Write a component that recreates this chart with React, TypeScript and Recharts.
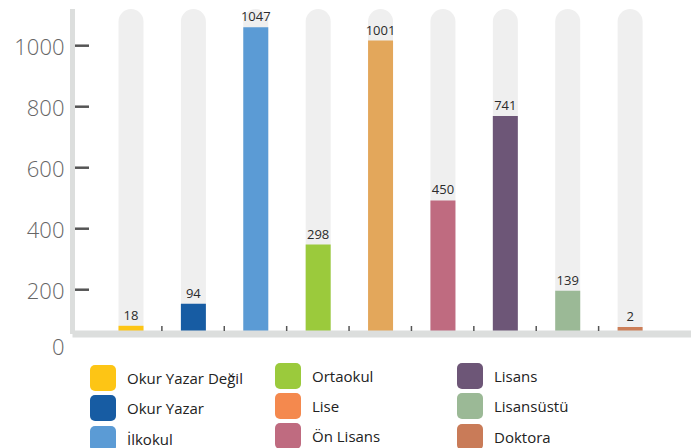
import * as React from "react";
import { BarChart, Bar, XAxis, YAxis, Cell, LabelList, Legend } from "recharts";

const categories = ["Okur Yazar Değil", "Okur Yazar", "İlkokul", "Ortaokul", "Lise", "Ön Lisans", "Lisans", "Lisansüstü", "Doktora"];
const counts = [18, 94, 1047, 298, 1001, 450, 741, 139, 2];
const barColors = ["#fdc515", "#175ca3", "#5b9bd5", "#9bca3c", "#e3a75b", "#bf6b80", "#6d5677", "#9bb996", "#cc7e57"];
const legendColors = ["#fdc515", "#175ca3", "#5b9bd5", "#9bca3c", "#f4894e", "#bf6b80", "#6d5677", "#9bb996", "#c97b58"];
const yTicks = [0, 200, 400, 600, 800, 1000];

const FONT = "'Open Sans', sans-serif";

const chartData = categories.map((name, i) => ({ name, value: counts[i] }));

const YTick = (props: any) => {
    const { x, y, payload } = props;
    const isZero = payload.value === 0;
    return (
        <g>
            <text x={x} y={isZero ? y - 5 : y} textAnchor="end" dominantBaseline="central"
                  fill="#666" fontSize={22} fontWeight={300} fontFamily={FONT}>
                {payload.value}
            </text>
            {!isZero && <line x1={x + 10.5} x2={x + 24.5} y1={y} y2={y} stroke="#555" strokeWidth={2.5} />}
        </g>
    );
};

const XTick = (props: any) => {
    const { x, y, payload, index } = props;
    if (index >= categories.length - 1) return null;
    const bx = x + (payload.offset || 31.2);
    return <line x1={bx} x2={bx} y1={y - 8} y2={y - 3} stroke="#555" strokeWidth={1.5} />;
};

// legend grid: first column sits a touch lower than the other two
const colLeft = [90, 275, 457];
const colShift = [1.5, -1, -0.5];
const rowTop = [363.5, 393.5, 424];

const LegendContent = () => (
    <div style={{ position: "relative", width: 691, height: 448, fontFamily: FONT }}>
        {categories.map((name, i) => {
            const col = Math.floor(i / 3);
            return (
                <div key={name} style={{
                    position: "absolute", left: colLeft[col], top: rowTop[i % 3] + colShift[col],
                    display: "flex", alignItems: "center", height: 26
                }}>
                    <span style={{ width: 26, height: 26, borderRadius: 5, background: legendColors[i], display: "inline-block" }} />
                    <span style={{ marginLeft: 11, fontSize: 15, color: "#222", whiteSpace: "nowrap" }}>{name}</span>
                </div>
            );
        })}
    </div>
);

export default function App() {
    return (
        <div style={{ position: "absolute", left: 0, top: 0, width: 691, height: 448, background: "#fff" }}>
            <BarChart width={691} height={448} data={chartData}
                      margin={{ top: 9, right: 0, left: 0, bottom: 94 }}>
                <YAxis yAxisId="scale" width={72.5} domain={[54.8, 1120.3]} allowDataOverflow
                       ticks={yTicks} interval={0} tickSize={0} tickMargin={8}
                       axisLine={{ stroke: "#dcdedd", strokeWidth: 5 }} tickLine={false} tick={<YTick />} />
                <YAxis yAxisId="bars" hide width={0} domain={[-10.3, 1110]} allowDataOverflow />
                <Bar yAxisId="bars" dataKey="value" barSize={25} minPointSize={4} isAnimationActive={false}
                     background={{ fill: "#efefef", radius: [12.5, 12.5, 0, 0] } as any}>
                    {chartData.map((d, i) => <Cell key={d.name} fill={barColors[i]} />)}
                    <LabelList dataKey="value" position="top" offset={6} fill="#2b2b2b" fontSize={13} fontFamily={FONT} />
                </Bar>
                <XAxis dataKey="name" height={20} padding={{ left: 27, right: 30 }} interval={0}
                       tickSize={0} tickMargin={0} tickLine={false}
                       axisLine={{ stroke: "#dcdedd", strokeWidth: 7 }} tick={<XTick />} />
                <Legend layout="horizontal" verticalAlign="middle" align="center"
                        wrapperStyle={{ left: 0, top: 0, width: 691, height: 448, pointerEvents: "none" }}
                        content={<LegendContent />} />
            </BarChart>
        </div>
    );
}
